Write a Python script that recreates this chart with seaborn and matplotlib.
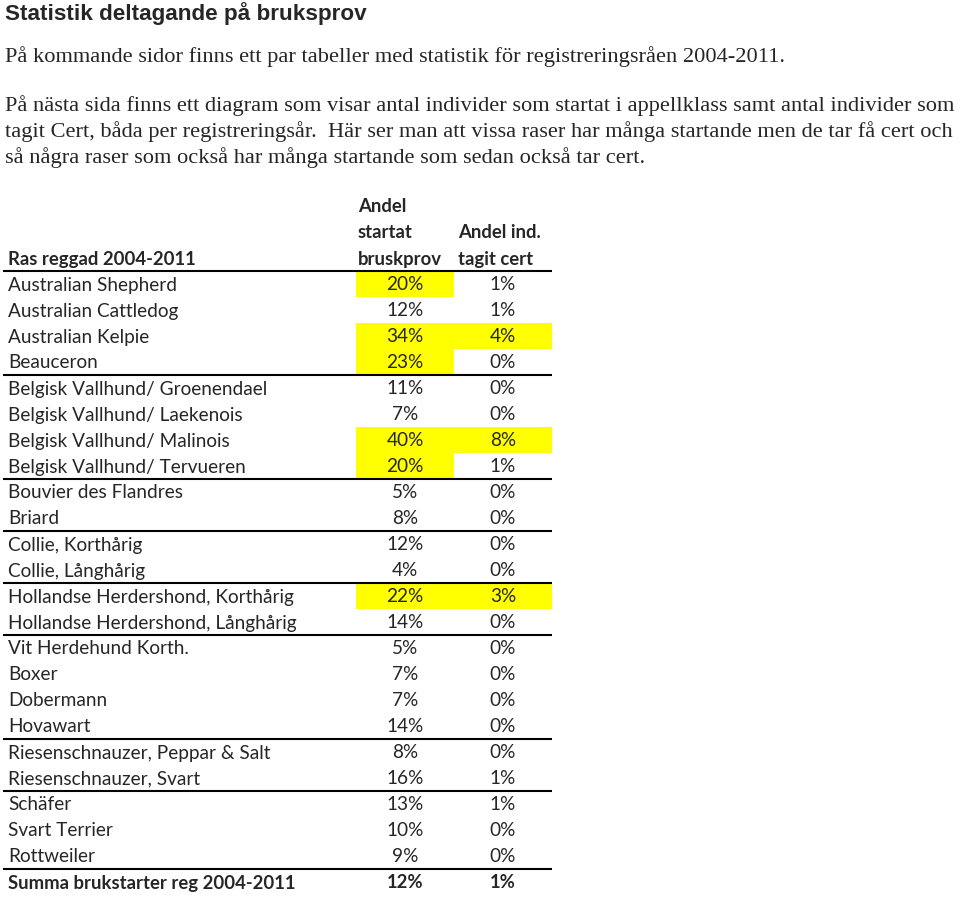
import numpy as np
import pandas as pd
import matplotlib
matplotlib.use("Agg")
import matplotlib.pyplot as plt
import seaborn as sns
from matplotlib.colors import ListedColormap

sns.set_theme(style="white")

title = "Statistik deltagande på bruksprov"
paragraph1 = "På kommande sidor finns ett par tabeller med statistik för registreringsråen 2004-2011."
paragraph2 = [
    "På nästa sida finns ett diagram som visar antal individer som startat i appellklass samt antal individer som",
    "tagit Cert, båda per registreringsår.  Här ser man att vissa raser har många startande men de tar få cert och",
    "så några raser som också har många startande som sedan också tar cert.",
]

breeds = [
    "Australian Shepherd", "Australian Cattledog", "Australian Kelpie", "Beauceron",
    "Belgisk Vallhund/ Groenendael", "Belgisk Vallhund/ Laekenois", "Belgisk Vallhund/ Malinois",
    "Belgisk Vallhund/ Tervueren", "Bouvier des Flandres", "Briard", "Collie, Korthårig",
    "Collie, Långhårig", "Hollandse Herdershond, Korthårig", "Hollandse Herdershond, Långhårig",
    "Vit Herdehund Korth.", "Boxer", "Dobermann", "Hovawart", "Riesenschnauzer, Peppar & Salt",
    "Riesenschnauzer, Svart", "Schäfer", "Svart Terrier", "Rottweiler",
]
andel_startat = [20, 12, 34, 23, 11, 7, 40, 20, 5, 8, 12, 4, 22, 14, 5, 7, 7, 14, 8, 16, 13, 10, 9]
andel_cert = [1, 1, 4, 0, 0, 0, 8, 1, 0, 0, 0, 0, 3, 0, 0, 0, 0, 0, 0, 1, 1, 0, 0]
highlight_startat = [1, 0, 1, 1, 0, 0, 1, 1, 0, 0, 0, 0, 1, 0, 0, 0, 0, 0, 0, 0, 0, 0, 0]
highlight_cert = [0, 0, 1, 0, 0, 0, 1, 0, 0, 0, 0, 0, 1, 0, 0, 0, 0, 0, 0, 0, 0, 0, 0]
group_end_rows = [3, 7, 9, 11, 13, 17, 19]
total_label = "Summa brukstarter reg 2004-2011"
total_startat = 12
total_cert = 1
header_col0 = "Ras reggad 2004-2011"
header_col1 = ["Andel", "startat", "bruskprov"]
header_col2 = ["Andel ind.", "tagit cert"]

W, H = 960, 897
fig = plt.figure(figsize=(W / 100, H / 100), dpi=100)

# layout (pixels)
row0 = 271.0
rh = 26.0
c1_left, c1_right, c2_right = 356.0, 455.0, 552.0
n = len(breeds)

# yellow highlight cells via seaborn heatmap
hax = fig.add_axes([c1_left / W, 1 - (row0 + n * rh) / H, (c2_right - c1_left) / W, n * rh / H])
hl = pd.DataFrame({"s": highlight_startat, "c": highlight_cert}, index=breeds)
sns.heatmap(hl, ax=hax, cmap=ListedColormap(["#FFFFFF", "#FFFF00"]), cbar=False,
            xticklabels=False, yticklabels=False, vmin=0, vmax=1, linewidths=0)
hax.axis("off")

ax = fig.add_axes([0, 0, 1, 1])
ax.set_xlim(0, W)
ax.set_ylim(H, 0)
ax.axis("off")
ax.patch.set_alpha(0)

ax.text(5, 14, title, fontsize=16.2, fontweight="bold", family="Liberation Sans",
        va="center", ha="left")
serif = dict(family="Liberation Serif", fontsize=16.1, va="center", ha="left")
ax.text(5, 57, paragraph1, **serif)
for k, line in enumerate(paragraph2):
    ax.text(5, 106 + 26 * k, line, **serif)

tf = "Lato"
fs = 13.7
fsb = 13.3
ax.text(8, 259, header_col0, family=tf, fontsize=fsb, fontweight="bold", va="center")
for k, t in enumerate(header_col1):
    ax.text(358, 207 + 26 * k, t, family=tf, fontsize=fsb, fontweight="bold", va="center")
for k, t in enumerate(header_col2):
    ax.text(458, 233 + 26 * k, t, family=tf, fontsize=fsb, fontweight="bold", va="center")

for i, (b, s, c) in enumerate(zip(breeds, andel_startat, andel_cert)):
    y = row0 + rh * i + rh / 2 + 1
    ax.text(8, y, b, family=tf, fontsize=fs, va="center")
    ax.text(405, y, f"{s}%", family=tf, fontsize=fs, va="center", ha="center")
    ax.text(503, y, f"{c}%", family=tf, fontsize=fs, va="center", ha="center")

y = row0 + rh * n + rh / 2 + 1
ax.text(8, y, total_label, family=tf, fontsize=fsb, fontweight="bold", va="center")
ax.text(405, y, f"{total_startat}%", family=tf, fontsize=fsb, fontweight="bold", va="center", ha="center")
ax.text(503, y, f"{total_cert}%", family=tf, fontsize=fsb, fontweight="bold", va="center", ha="center")

lines_y = [row0] + [row0 + rh * (r + 1) for r in group_end_rows] + [row0 + rh * n]
for ly in lines_y:
    ax.plot([3, c2_right], [ly, ly], color="black", lw=1.5, solid_capstyle="butt")

fig.savefig("out.png", dpi=100)
